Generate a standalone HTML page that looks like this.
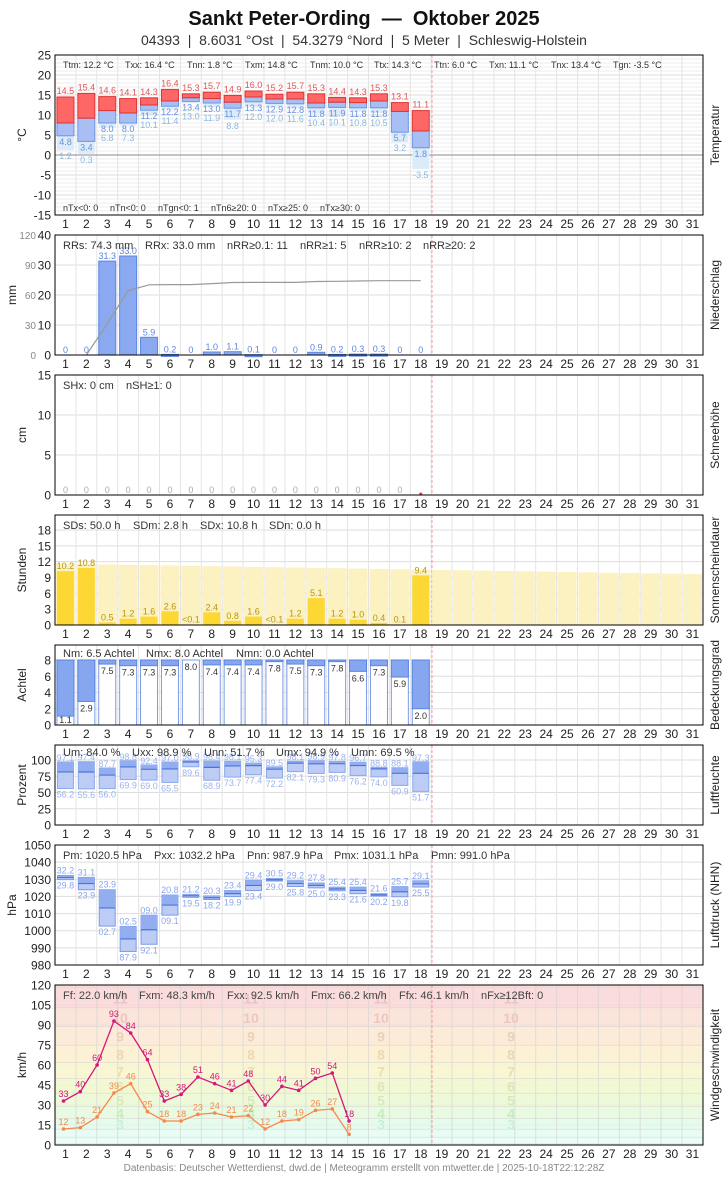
<!DOCTYPE html>
<html><head><meta charset="utf-8"><style>
body{margin:0;background:#fff;font-family:"Liberation Sans",sans-serif}
svg text{font-family:"Liberation Sans","DejaVu Sans",sans-serif;white-space:pre}
</style></head><body>
<svg id="s" width="728" height="1175" xmlns="http://www.w3.org/2000/svg"></svg>
<script>
var S=document.getElementById('s'),h='';
function R(x,y,w,hh,f,st,extra){h+='<rect x="'+x+'" y="'+y+'" width="'+w+'" height="'+hh+'" fill="'+f+'"'+(st?' stroke="'+st+'" stroke-width="1"':'')+(extra||'')+'/>';}
function L(x1,y1,x2,y2,c,w,extra){h+='<line x1="'+x1+'" y1="'+y1+'" x2="'+x2+'" y2="'+y2+'" stroke="'+c+'" stroke-width="'+(w||1)+'"'+(extra||'')+'/>';}
function T(x,y,t,sz,c,a,extra){h+='<text x="'+x+'" y="'+y+'" font-size="'+sz+'" fill="'+c+'" text-anchor="'+(a||'start')+'"'+(extra||'')+'>'+t+'</text>';}
var X0=55,X1=703,CW=20.9;
function cx(d){return X0+(d-0.5)*CW;}
T(364,25,'Sankt Peter-Ording&#160;&#160;—&#160;&#160;Oktober 2025',20,'#111','middle',' font-weight="bold"');
T(364,45,'04393&#160;&#160;|&#160;&#160;8.6031 °Ost&#160;&#160;|&#160;&#160;54.3279 °Nord&#160;&#160;|&#160;&#160;5 Meter&#160;&#160;|&#160;&#160;Schleswig-Holstein',14,'#333','middle');
function panel(top,bot,ylab,rlab,ticks,minor,lx){
 R(X0,top,X1-X0,bot-top,'#fff');
 if(minor)minor.forEach(function(y){L(X0,y,X1,y,'#eee');});
 ticks.forEach(function(t){L(X0,t[0],X1,t[0],'#ddd');T(51,t[0]+4.5,t[1],12,'#222','end');});
 for(var d=1;d<31;d++)L(X0+d*CW,top,X0+d*CW,bot,'#e4e4e4');
 L(432,top,432,bot,'#f2a0a0',1,' stroke-dasharray="3,2"');
 var my=(top+bot)/2;lx=lx||26;
 T(lx,my,ylab,12,'#222','middle',' transform="rotate(-90 '+lx+' '+my+')"');
 T(719,my,rlab,12,'#222','middle',' transform="rotate(-90 719 '+my+')"');
 for(var d=1;d<=31;d++)T(cx(d),bot+13,d,12,'#222','middle');
}
function border(top,bot){h+='<rect x="'+X0+'" y="'+top+'" width="'+(X1-X0)+'" height="'+(bot-top)+'" fill="none" stroke="#000" stroke-width="1"/>';}
var N=18;
// Temperature
(function(){var top=55,bot=215;function y(v){return 155-v*4;}
var tk=[],mn=[];for(var v=-15;v<=25;v+=5)tk.push([y(v),v]);for(var v=-15;v<=25;v++)if(v%5)mn.push(y(v));
panel(top,bot,'°C','Temperatur',tk,mn);
L(X0,155,X1,155,'#888');
var Tx=[14.5,15.4,14.6,14.1,14.3,16.4,15.3,15.7,14.9,16.0,15.2,15.7,15.3,14.4,14.3,15.3,13.1,11.1],
Tn=[4.8,3.4,8.0,8.0,11.2,12.2,13.4,13.0,11.7,13.3,12.9,12.8,11.8,11.9,11.8,11.8,5.7,1.8],
Tg=[1.2,0.3,6.8,7.3,10.1,11.4,13.0,11.9,8.8,12.0,12.0,11.6,10.4,10.1,10.8,10.5,3.2,-3.5],
Tm=[8,9.2,11.1,10.5,12.5,13.5,14.3,14.1,13.2,14.5,14.0,14.0,13.0,13.2,13.1,13.5,10.9,6.0];
for(var i=0;i<N;i++){var x=cx(i+1)-8.5;
 if(Tg[i]<Tn[i])R(x,y(Tn[i]),17,y(Tg[i])-y(Tn[i]),'#dcebf8');
 R(x,y(Tm[i]),17,y(Tn[i])-y(Tm[i]),'#a9bff3','#6d94e6');
 R(x,y(Tx[i]),17,y(Tm[i])-y(Tx[i]),'#f66','#d33');
 var ly=y(Tn[i])+9,lg=Math.max(y(Tg[i])+9,ly+9);
 T(cx(i+1),y(Tx[i])-3,Tx[i].toFixed(1),9,'#e05555','middle');
 T(cx(i+1),ly,Tn[i].toFixed(1),9,'#6a8fdd','middle');
 T(cx(i+1),lg,Tg[i].toFixed(1),9,'#8ab8dd','middle');}
var st=[[63,'Ttm: 12.2 °C'],[125,'Txx: 16.4 °C'],[187,'Tnn: 1.8 °C'],[245,'Txm: 14.8 °C'],[310,'Tnm: 10.0 °C'],[374,'Ttx: 14.3 °C'],[434,'Ttn: 6.0 °C'],[489,'Txn: 11.1 °C'],[551,'Tnx: 13.4 °C'],[613,'Tgn: -3.5 °C']];
st.forEach(function(s){T(s[0],68,s[1],9,'#333');});
var sb=[[63,'nTx&lt;0: 0'],[110,'nTn&lt;0: 0'],[158,'nTgn&lt;0: 1'],[211,'nTn6≥20: 0'],[268,'nTx≥25: 0'],[320,'nTx≥30: 0']];
sb.forEach(function(s){T(s[0],211,s[1],9,'#333');});
border(top,bot);})();
// Precip
(function(){var top=235,bot=355;function y(v){return bot-v*3;}
var tk=[];for(var v=0;v<=40;v+=10)tk.push([y(v),v]);
panel(top,bot,'mm','Niederschlag',tk,null,16);
[0,30,60,90,120].forEach(function(v){T(36,bot-v+4,v,10,'#888','end');});
var P=[0,0,31.3,33.0,5.9,0.2,0,1.0,1.1,0.1,0,0,0.9,0.2,0.3,0.3,0,0];
var c=0,pts=[];
for(var i=0;i<N;i++){c+=P[i];pts.push(cx(i+1)+','+(bot-c));
 if(P[i]>0)R(cx(i+1)-8.5,y(P[i]),17,Math.max(P[i]*3,2),'#8aa9f0','#5b85e0');
 T(cx(i+1),y(P[i])-2,P[i]==0?'0':P[i].toFixed(1),9,'#5b85e0','middle');}
pts=pts.slice(1);h+='<polyline points="'+pts.join(' ')+'" fill="none" stroke="#999" stroke-width="1.2"/>';
[[63,'RRs: 74.3 mm'],[145,'RRx: 33.0 mm'],[227,'nRR≥0.1: 11'],[300,'nRR≥1: 5'],[359,'nRR≥10: 2'],[423,'nRR≥20: 2']].forEach(function(s){T(s[0],249,s[1],11,'#333');});
border(top,bot);})();
// Snow
(function(){var top=375,bot=495;function y(v){return bot-v*8;}
var tk=[];for(var v=0;v<=15;v+=5)tk.push([y(v),v]);
panel(top,bot,'cm','Schneehöhe',tk);
for(var i=0;i<17;i++)T(cx(i+1),bot-2,'0',9,'#aaa','middle');
h+='<circle cx="'+cx(18)+'" cy="'+(bot-1)+'" r="1.5" fill="#e33"/>';
T(63,389,'SHx: 0 cm',11,'#333');T(126,389,'nSH≥1: 0',11,'#333');
border(top,bot);})();
// Sun
(function(){var top=515,bot=625,k=95/18;function y(v){return bot-v*k;}
var tk=[];for(var v=0;v<=18;v+=3)tk.push([y(v),v]);
panel(top,bot,'Stunden','Sonnenscheindauer',tk);
for(var d=1;d<=31;d++){var m=11.6-(d-1)*0.065;R(cx(d)-9.5,y(m),19,bot-y(m),'#fcf1c0');}
var S=[10.2,10.8,0.5,1.2,1.6,2.6,0.05,2.4,0.8,1.6,0.05,1.2,5.1,1.2,1.0,0.4,0.1,9.4];
for(var i=0;i<N;i++){R(cx(i+1)-8.5,y(S[i]),17,bot-y(S[i]),'#fdd835');
 T(cx(i+1),y(S[i])-2,S[i]<0.1?'&lt;0.1':S[i].toFixed(1),9,'#b8960a','middle');}
[[63,'SDs: 50.0 h'],[133,'SDm: 2.8 h'],[200,'SDx: 10.8 h'],[269,'SDn: 0.0 h']].forEach(function(s){T(s[0],529,s[1],11,'#333');});
border(top,bot);})();
// Cloud
(function(){var top=645,bot=725,k=65/8;function y(v){return bot-v*k;}
var tk=[];for(var v=0;v<=8;v+=2)tk.push([y(v),v]);
panel(top,bot,'Achtel','Bedeckungsgrad',tk);
var C=[1.1,2.9,7.5,7.3,7.3,7.3,8.0,7.4,7.4,7.4,7.8,7.5,7.3,7.8,6.6,7.3,5.9,2.0];
for(var i=0;i<N;i++){var x=cx(i+1)-8.5;R(x,y(8),17,bot-y(8),'#fff','#7a9be6');
 R(x,y(8),17,y(C[i])-y(8),'#86a6ef','#5b85e0');
 T(cx(i+1),Math.min(y(C[i])+10,bot-2),C[i].toFixed(1),9,'#333','middle');}
[[63,'Nm: 6.5 Achtel'],[146,'Nmx: 8.0 Achtel'],[236,'Nmn: 0.0 Achtel']].forEach(function(s){T(s[0],657,s[1],11,'#333');});
border(top,bot);})();
// Humidity
(function(){var top=745,bot=825,k=0.65;function y(v){return bot-v*k;}
var tk=[];for(var v=0;v<=100;v+=25)tk.push([y(v),v]);
panel(top,bot,'Prozent','Luftfeuchte',tk);
var mx=[97.1,97.4,87.7,98.8,92.4,97.0,98.9,98.4,98.1,95.3,89.5,98.1,98.9,97.8,96.7,88.8,88.1,97.3],
mn=[56.2,55.6,56.0,69.9,69.0,65.5,89.6,68.9,73.7,77.4,72.2,82.1,79.3,80.9,76.2,74.0,60.9,51.7];
for(var i=0;i<N;i++){var x=cx(i+1)-8,m=(mx[i]+mn[i])/2+5;if(m>mx[i])m=mx[i]-2;
 R(x,y(mx[i]),16,y(mn[i])-y(mx[i]),'#bcccf5','#8aa8ee');
 R(x,y(mx[i]),16,y(m)-y(mx[i]),'#93aef0');
 L(x,y(m),x+16,y(m),'#4a75d8',1.2);
 T(cx(i+1),y(mx[i])-1,mx[i].toFixed(1),9,'#9ab3ee','middle');
 T(cx(i+1),y(mn[i])+9,mn[i].toFixed(1),9,'#9ab3ee','middle');}
[[63,'Um: 84.0 %'],[132,'Uxx: 98.9 %'],[204,'Unn: 51.7 %'],[276,'Umx: 94.9 %'],[351,'Umn: 69.5 %']].forEach(function(s){T(s[0],756,s[1],11,'#333');});
border(top,bot);})();
// Pressure
(function(){var top=845,bot=965,k=120/70;function y(v){return bot-(v-980)*k;}
var tk=[];for(var v=980;v<=1050;v+=10)tk.push([y(v),v]);
panel(top,bot,'hPa','Luftdruck (NHN)',tk,null,16);
var mx=[1032.2,1031.1,1023.9,1002.5,1009.0,1020.8,1021.2,1020.3,1023.4,1029.4,1030.5,1029.2,1027.8,1025.4,1025.4,1021.6,1025.7,1029.1],
mn=[1029.8,1023.9,1002.7,987.9,992.1,1009.1,1019.5,1018.2,1019.9,1023.4,1029.0,1025.8,1025.0,1023.3,1021.6,1020.2,1019.8,1025.5];
function f(v){var s=v.toFixed(1);return s.slice(-4);}
for(var i=0;i<N;i++){var x=cx(i+1)-8,hi=Math.max(mx[i],mn[i]),lo=Math.min(mx[i],mn[i]),m=(hi+lo)/2;
 R(x,y(hi),16,Math.max(y(lo)-y(hi),2),'#bcccf5','#7a9be6');
 R(x,y(hi),16,Math.max(y(m)-y(hi),1),'#93aef0');
 L(x,y(m),x+16,y(m),'#4a75d8',1.2);
 T(cx(i+1),y(hi)-2,f(mx[i]),9,'#8aa6ee','middle');
 T(cx(i+1),y(lo)+9,f(mn[i]),9,'#8aa6ee','middle');}
[[63,'Pm: 1020.5 hPa'],[154,'Pxx: 1032.2 hPa'],[247,'Pnn: 987.9 hPa'],[334,'Pmx: 1031.1 hPa'],[431,'Pmn: 991.0 hPa']].forEach(function(s){T(s[0],859,s[1],11,'#333');});
border(top,bot);})();
// Wind
(function(){var top=985,bot=1145,k=160/120;function y(v){return bot-v*k;}
var tk=[];for(var v=0;v<=120;v+=15)tk.push([y(v),v]);
panel(top,bot,'km/h','Windgeschwindigkeit',tk);
var bands=[[0,1,'#eefcff'],[1,6,'#e8fbf8'],[6,12,'#e4faf2'],[12,20,'#e2f9ea'],[20,29,'#e4f9dc'],[29,39,'#ebf8d2'],[39,50,'#f1f7cd'],[50,62,'#f8f5cc'],[62,75,'#fbefcc'],[75,89,'#fbe8d2'],[89,103,'#fadfd4'],[103,118,'#f9d6d6'],[118,120,'#f9d6d6']];
bands.forEach(function(b){R(X0,y(b[1]),X1-X0,y(b[0])-y(b[1]),b[2],null,' fill-opacity="0.85"');L(X0,y(b[1]),X1,y(b[1]),'#d8d8d8');});
for(var d=1;d<31;d++)L(X0+d*CW,top,X0+d*CW,bot,'#d4d4d4',1,' stroke-opacity="0.6"');
L(432,top,432,bot,'#f2a0a0',1,' stroke-dasharray="3,2"');
var bn=[[3,16,'#c9efd9'],[4,24.5,'#c4ecbf'],[5,34,'#d6eabb'],[6,44.5,'#e0e4b3'],[7,56,'#e8e0ae'],[8,68.5,'#ebd8b2'],[9,82,'#ead0b8'],[10,96,'#eac8c0'],[11,110.5,'#e8c4c4']];
[120,251,381,511].forEach(function(x){bn.forEach(function(b){T(x,y(b[1])+6,b[0],14,b[2],'middle',' font-weight="bold"');});});
var Fx=[33,40,60,93,84,64,33,38,51,46,41,48,30,44,41,50,54,18],Ff=[12,13,21,39,46,25,18,18,23,24,21,22,12,18,19,26,27,8];
function wx(d){return 63.5+(d-1)*16.8;}
function line(D,c){var p=D.map(function(v,i){return wx(i+1)+','+y(v);});h+='<polyline points="'+p.join(' ')+'" fill="none" stroke="'+c+'" stroke-width="1.3"/>';
 D.forEach(function(v,i){h+='<circle cx="'+wx(i+1)+'" cy="'+y(v)+'" r="1.8" fill="'+c+'"/>';T(wx(i+1),y(v)-4,v,9,c,'middle');});}
line(Ff,'#f5894a');line(Fx,'#d4177a');
[[63,'Ff: 22.0 km/h'],[139,'Fxm: 48.3 km/h'],[227,'Fxx: 92.5 km/h'],[311,'Fmx: 66.2 km/h'],[399,'Ffx: 46.1 km/h'],[481,'nFx≥12Bft: 0']].forEach(function(s){T(s[0],999,s[1],11,'#444');});
border(top,bot);})();
T(364,1171,'Datenbasis: Deutscher Wetterdienst, dwd.de | Meteogramm erstellt von mtwetter.de | 2025-10-18T22:12:28Z',10,'#888','middle');
S.innerHTML=h;
</script>
</body></html>
